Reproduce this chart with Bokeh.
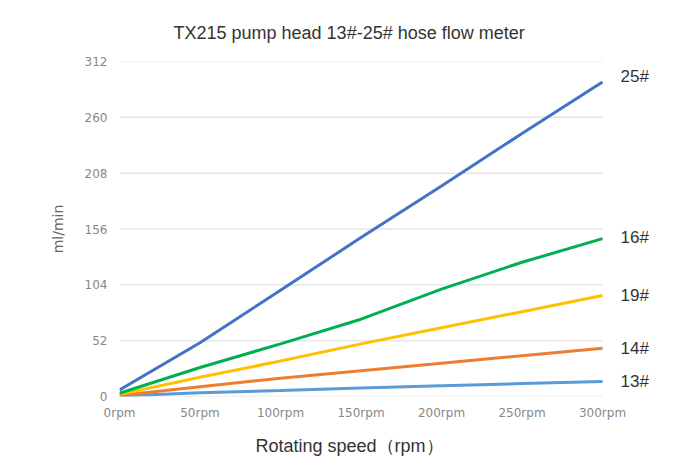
from bokeh.plotting import figure
from bokeh.models import Range1d, FixedTicker, Label, Title
from bokeh.embed import file_html
from bokeh.resources import INLINE

speeds = [0, 50, 100, 150, 200, 250, 300]
tick_labels = {0: "0rpm", 50: "50rpm", 100: "100rpm", 150: "150rpm", 200: "200rpm", 250: "250rpm", 300: "300rpm"}
y_ticks = [0, 52, 104, 156, 208, 260, 312]

hose_25 = [6, 50, 99, 148, 196, 245, 293]
hose_16 = [3, 27, 49, 72, 100, 125, 147]
hose_19 = [2, 18, 33, 49, 64, 79, 94]
hose_14 = [1, 9, 17, 24, 31, 38, 45]
hose_13 = [0.5, 3.5, 5.5, 8, 10, 12, 14]

series = [
    ("25#", hose_25, "#4472C4", 5),
    ("16#", hose_16, "#00B050", 1),
    ("19#", hose_19, "#FFC000", 0),
    ("14#", hose_14, "#ED7D31", 0),
    ("13#", hose_13, "#5B9BD5", 0),
]

# frame extends right to leave room for end labels; data area (0..300) spans 483px
x_max = speeds[-1] * 550 / 483
p = figure(width=669, height=466, output_backend="svg", toolbar_location=None,
           x_range=Range1d(0, x_max), y_range=Range1d(0, 312),
           min_border_left=119, min_border_right=0, min_border_top=61, min_border_bottom=0)
p.outline_line_color = None
p.background_fill_color = "white"
p.border_fill_color = "white"

p.add_layout(Title(text="TX215 pump head 13#-25# hose flow meter", align="left",
                   text_font="Liberation Sans", text_font_size="18px", text_color="#333333",
                   text_font_style="normal", offset=54, standoff=37), "above")

# horizontal grid lines spanning the data area only
p.segment(x0=speeds[0], x1=speeds[-1], y0=y_ticks, y1=y_ticks,
          line_color="#e6e6e6", line_width=1.5)

for name, vals, color, off in series[::-1]:
    p.line(speeds, vals, line_color=color, line_width=3)

for name, vals, color, off in series:
    p.add_layout(Label(x=speeds[-1], y=vals[-1], text=name, x_offset=18, y_offset=off,
                       text_font="Liberation Sans", text_font_size="17px", text_color="#333333",
                       text_baseline="middle", text_align="left"))

p.xaxis.ticker = FixedTicker(ticks=speeds)
p.xaxis.major_label_overrides = tick_labels
p.xaxis.bounds = (0, speeds[-1])
p.yaxis.ticker = FixedTicker(ticks=y_ticks)
for ax in (p.xaxis[0], p.yaxis[0]):
    ax.axis_line_color = None
    ax.major_tick_line_color = None
    ax.minor_tick_line_color = None
    ax.major_label_text_color = "#888888"
    ax.major_label_text_font = "DejaVu Sans"
    ax.major_label_text_font_size = "12px"
p.xaxis.major_label_standoff = 3
p.yaxis.major_label_standoff = 6
p.yaxis.axis_label = "ml/min"
p.yaxis.axis_label_text_font = "DejaVu Sans"
p.yaxis.axis_label_text_font_size = "14px"
p.yaxis.axis_label_text_font_style = "normal"
p.yaxis.axis_label_text_color = "#666666"
p.yaxis.axis_label_standoff = 16

p.add_layout(Title(text="Rotating speed（rpm）", align="left",
                   text_font="Liberation Sans", text_font_size="18px", text_color="#333333",
                   text_font_style="normal", offset=136, standoff=22), "below")

p.xgrid.grid_line_color = None
p.ygrid.grid_line_color = None

open("out.html", "w").write(file_html(p, INLINE))
